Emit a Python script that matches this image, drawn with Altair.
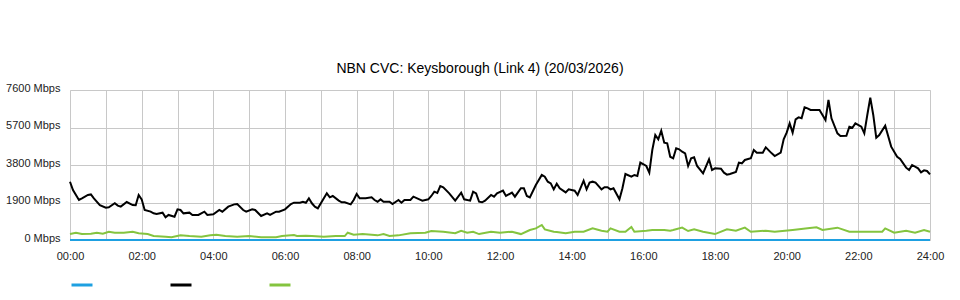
import altair as alt
import pandas as pd

TITLE = "NBN CVC: Keysborough (Link 4) (20/03/2026)"

black_times = [
    "00:00","00:05","00:15","00:20","00:30","00:35","00:40","00:50","01:00","01:05","01:15","01:20","01:25","01:35",
    "01:45","01:50","01:55","02:00","02:05","02:15","02:20","02:25","02:35","02:40","02:45","02:55","03:00","03:05",
    "03:10","03:20","03:25","03:35","03:45","03:50","04:00","04:10","04:15","04:25","04:35","04:40","04:50","04:55",
    "05:05","05:10","05:20","05:30","05:35","05:45","05:50","06:00","06:10","06:15","06:25","06:30","06:35","06:40",
    "06:45","06:50","06:55","07:10","07:15","07:20","07:30","07:35","07:40","07:50","07:55","08:00","08:05","08:15",
    "08:25","08:30","08:35","08:40","08:45","08:55","09:00","09:10","09:15","09:20","09:30","09:35","09:45","09:50",
    "10:00","10:05","10:10","10:15","10:20","10:25","10:35","10:45","10:55","11:00","11:10","11:15","11:20","11:25",
    "11:30","11:35","11:45","11:50","11:55","12:05","12:10","12:20","12:25","12:35","12:40","12:45","12:50","13:00",
    "13:10","13:15","13:20","13:25","13:30","13:35","13:40","13:50","13:55","14:05","14:10","14:20","14:25","14:30",
    "14:35","14:40","14:50","14:55","15:00","15:05","15:10","15:20","15:25","15:30","15:40","15:45","15:50","15:55",
    "16:05","16:10","16:15","16:20","16:25","16:30","16:35","16:40","16:45","16:50","16:55","17:00","17:05","17:10",
    "17:15","17:20","17:25","17:30","17:40","17:50","17:55","18:00","18:10","18:15","18:20","18:25","18:35","18:40",
    "18:45","18:50","19:00","19:05","19:10","19:20","19:25","19:35","19:40","19:50","19:55","20:00","20:05","20:10",
    "20:15","20:20","20:25","20:30","20:35","20:40","20:55","21:05","21:10","21:15","21:25","21:30","21:40","21:45",
    "21:50","21:55","22:05","22:10","22:15","22:20","22:25","22:30","22:35","22:45","22:55","23:05","23:10","23:20",
    "23:25","23:30","23:40","23:45","23:50","23:55","24:00",
]
black_values = [
    2950,2530,2030,2110,2280,2310,2110,1770,1640,1655,1860,1740,1690,1925,
    1770,1760,2280,2060,1520,1440,1350,1320,1385,1150,1270,1180,1555,1520,
    1350,1385,1270,1270,1435,1270,1300,1520,1435,1690,1805,1825,1520,1435,
    1555,1520,1215,1350,1270,1435,1435,1555,1825,1890,1890,1940,1890,2110,
    1860,1690,1605,2365,2160,2230,1995,1910,1910,1805,2025,2330,2110,2110,
    2160,2025,1940,2060,1940,1940,1825,2025,1890,2025,2025,2195,2060,1995,
    2060,2230,2450,2380,2735,2670,2365,1995,2400,2060,1995,2450,2365,1940,
    1910,1995,2280,2195,2365,2500,2230,2400,2195,2620,2620,2230,2160,2785,
    3295,3210,2955,2870,2565,2850,2620,2415,2565,2500,2280,3005,2565,2905,
    2955,2905,2565,2670,2670,2565,2620,2060,2620,3345,3210,3295,3245,3920,
    3750,3410,4560,5320,5100,5540,4930,4900,4220,4140,4645,4595,4475,4390,
    3750,4140,4190,3750,3380,4090,3545,3630,3615,3410,3310,3345,3445,3920,
    3885,4055,4140,4560,4425,4425,4695,4390,4255,4425,5100,5440,5910,5440,
    6115,6215,6165,6720,6670,6590,6590,6080,7095,6165,5405,5270,5285,5740,
    5690,5910,5740,5405,6335,7210,6335,5185,5320,5795,4730,4220,4105,3665,
    3545,3800,3630,3430,3530,3495,3325,
]

green_times = [
    "00:00","00:10","00:20","00:35","00:45","00:55","01:05","01:15","01:30","01:45","01:55","02:10","02:20","02:40",
    "02:50","03:05","03:20","03:40","03:55","04:05","04:20","04:40","05:00","05:20","05:45","05:55","06:15","06:20",
    "06:35","06:45","07:05","07:25","07:40","07:45","07:55","08:10","08:35","08:45","08:55","09:10","09:30","09:55",
    "10:05","10:25","10:45","10:55","11:05","11:15","11:25","11:45","12:00","12:20","12:35","12:50","13:00","13:10",
    "13:15","13:30","13:35","13:50","14:05","14:20","14:35","14:50","15:00","15:05","15:20","15:30","15:40","15:45",
    "16:05","16:15","16:35","16:45","16:50","17:05","17:15","17:25","17:40","18:00","18:20","18:35","18:50","19:00",
    "19:25","19:40","20:10","20:35","20:50","21:00","21:25","21:45","22:40","22:45","23:00","23:20","23:35","23:50",
    "24:00",
]
green_values = [
    300,370,300,320,370,320,420,370,370,420,340,300,200,170,
    135,235,200,170,235,270,200,170,200,135,135,200,250,200,
    220,200,170,200,200,370,270,300,235,300,200,235,340,370,
    460,420,340,470,370,420,300,420,370,420,300,505,590,760,
    540,420,400,340,420,420,590,470,420,590,420,420,660,420,
    470,505,505,470,505,630,455,540,420,300,540,470,625,420,
    470,420,505,590,640,505,625,420,420,590,370,470,370,505,
    420,
]

blue_times = ["00:00", "24:00"]
blue_values = [0, 0]

series_names = ["blue", "black", "green"]
series_colors = ["#1ea0e1", "#000000", "#84c43f"]
y_ticks = [0, 1900, 3800, 5700, 7600]
x_ticks = list(range(25))


def to_hours(t):
    h, m = t.split(":")
    return int(h) + int(m) / 60.0


rows = []
for name, times, vals in [("blue", blue_times, blue_values),
                          ("green", green_times, green_values),
                          ("black", black_times, black_values)]:
    for t, v in zip(times, vals):
        rows.append({"series": name, "hour": to_hours(t), "mbps": v})
df = pd.DataFrame(rows)

FONT = "Liberation Sans"
GRID = "#c8c8c8"

chart = alt.Chart(df).mark_line(strokeWidth=2).encode(
    x=alt.X("hour:Q",
            scale=alt.Scale(domain=[0, 24], nice=False, zero=False),
            axis=alt.Axis(values=x_ticks, title=None, ticks=False, domain=False,
                          grid=True, gridColor=GRID, gridWidth=1,
                          labelExpr="datum.value % 2 == 0 ? ((datum.value < 10 ? '0' : '') + datum.value + ':00') : ''",
                          labelPadding=10, labelFontSize=11, labelFont=FONT, labelColor="#222222",
                          labelFlush=False, labelOverlap=False)),
    y=alt.Y("mbps:Q",
            scale=alt.Scale(domain=[0, 7600], nice=False),
            axis=alt.Axis(values=y_ticks, title=None, ticks=False, domain=False,
                          grid=True, gridColor=GRID, gridWidth=1,
                          labelExpr="datum.value + ' Mbps'", labelOffset=-2,
                          labelPadding=10, labelFontSize=11, labelFont=FONT, labelColor="#222222")),
    color=alt.Color("series:N",
                    scale=alt.Scale(domain=series_names, range=series_colors),
                    legend=alt.Legend(orient="none", legendX=0, legendY=183,
                                      direction="horizontal", title=None,
                                      symbolType="stroke", symbolSize=441,
                                      symbolStrokeWidth=3, labelExpr="''",
                                      labelOffset=0, labelFontSize=1,
                                      columnPadding=65, padding=0)),
    detail="series:N",
).properties(
    width=860,
    height=150,
    title=alt.TitleParams(TITLE, font=FONT, fontSize=14, fontWeight="normal",
                          color="#000000", anchor="middle", dx=-20, offset=6),
    autosize=alt.AutoSizeParams(type="none"),
    padding={"left": 70, "top": 90, "right": 30, "bottom": 60},
).configure_view(stroke=None).configure(background="white")

chart.save("out.html", embed_options={"renderer": "svg", "actions": False})
